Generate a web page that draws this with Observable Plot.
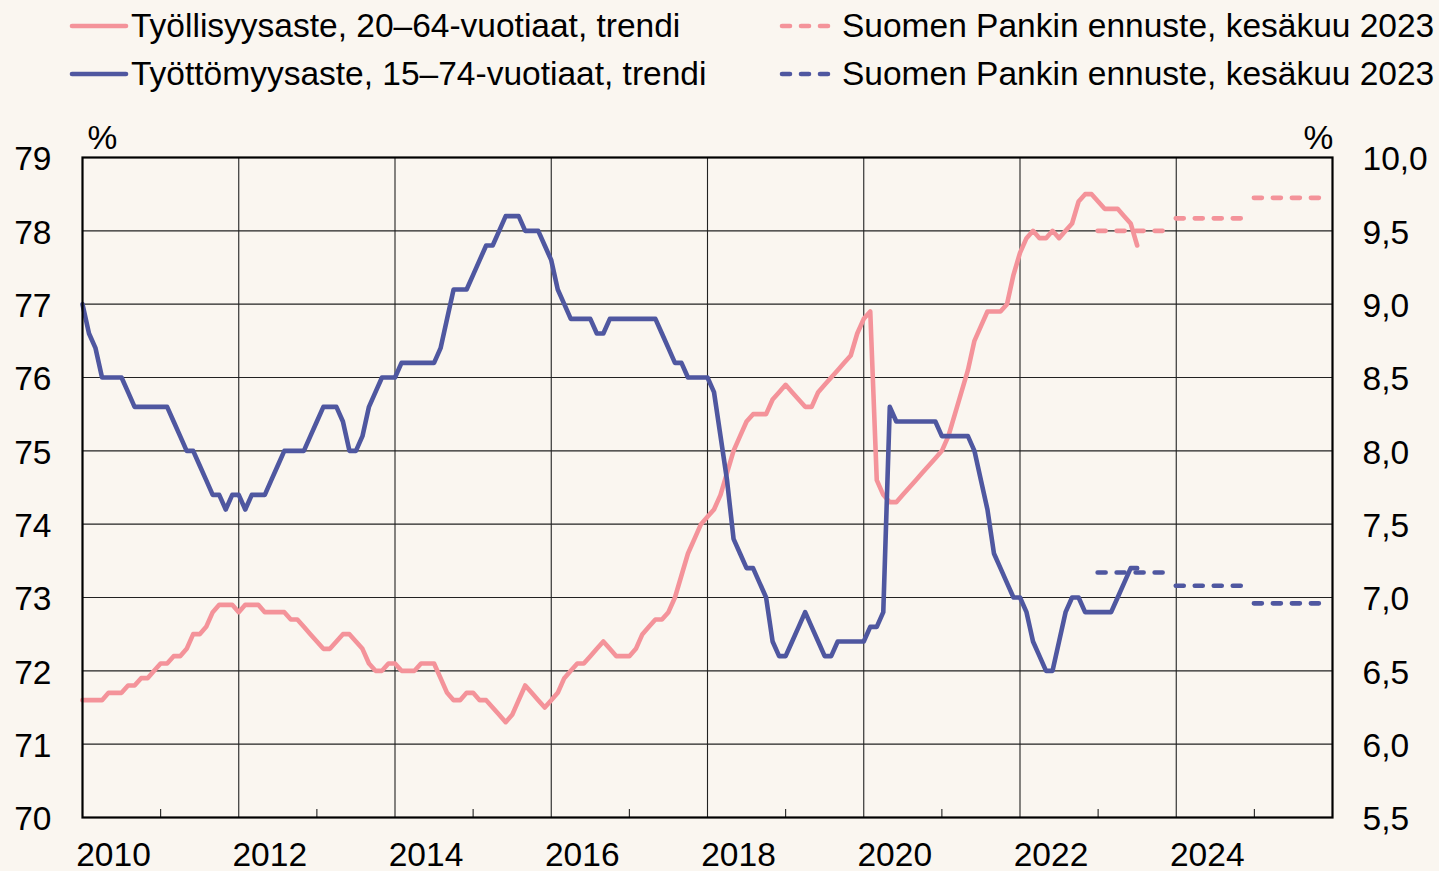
<!DOCTYPE html>
<html>
<head>
<meta charset="utf-8">
<script src="https://cdn.jsdelivr.net/npm/d3@7"></script>
<script src="https://cdn.jsdelivr.net/npm/@observablehq/plot@0.6"></script>
<style>
  html, body { margin: 0; padding: 0; background: #FAF6F0; }
  body { width: 1439px; height: 871px; overflow: hidden; font-family: "Liberation Sans", Arial, sans-serif; }
  #legend { position: relative; width: 1439px; height: 100px; }
  .lg-text { position: absolute; font-size: 33.5px; line-height: 34px; color: #000; white-space: nowrap; }
  .lg-line { position: absolute; }
</style>
</head>
<body>
<div id="legend"></div>
<div id="chart"></div>
<script>
// ---- Data (monthly trend values, Jan 2010 onward) ----
const startYear = 2010;

// Työllisyysaste, 20–64-vuotiaat, trendi (%), left axis
const employment = [
  71.6,71.6,71.6,71.6,71.7,71.7,71.7,71.8,71.8,71.9,71.9,72.0,
  72.1,72.1,72.2,72.2,72.3,72.5,72.5,72.6,72.8,72.9,72.9,72.9,
  72.8,72.9,72.9,72.9,72.8,72.8,72.8,72.8,72.7,72.7,72.6,72.5,
  72.4,72.3,72.3,72.4,72.5,72.5,72.4,72.3,72.1,72.0,72.0,72.1,
  72.1,72.0,72.0,72.0,72.1,72.1,72.1,71.9,71.7,71.6,71.6,71.7,
  71.7,71.6,71.6,71.5,71.4,71.3,71.4,71.6,71.8,71.7,71.6,71.5,
  71.6,71.7,71.9,72.0,72.1,72.1,72.2,72.3,72.4,72.3,72.2,72.2,
  72.2,72.3,72.5,72.6,72.7,72.7,72.8,73.0,73.3,73.6,73.8,74.0,
  74.1,74.2,74.4,74.7,75.0,75.2,75.4,75.5,75.5,75.5,75.7,75.8,
  75.9,75.8,75.7,75.6,75.6,75.8,75.9,76.0,76.1,76.2,76.3,76.6,
  76.8,76.9,74.6,74.4,74.3,74.3,74.4,74.5,74.6,74.7,74.8,74.9,
  75.0,75.2,75.5,75.8,76.1,76.5,76.7,76.9,76.9,76.9,77.0,77.4,
  77.7,77.9,78.0,77.9,77.9,78.0,77.9,78.0,78.1,78.4,78.5,78.5,
  78.4,78.3,78.3,78.3,78.2,78.1,77.8
];

// Työttömyysaste, 15–74-vuotiaat, trendi (%), right axis
const unemployment = [
  9.0,8.8,8.7,8.5,8.5,8.5,8.5,8.4,8.3,8.3,8.3,8.3,
  8.3,8.3,8.2,8.1,8.0,8.0,7.9,7.8,7.7,7.7,7.6,7.7,
  7.7,7.6,7.7,7.7,7.7,7.8,7.9,8.0,8.0,8.0,8.0,8.1,
  8.2,8.3,8.3,8.3,8.2,8.0,8.0,8.1,8.3,8.4,8.5,8.5,
  8.5,8.6,8.6,8.6,8.6,8.6,8.6,8.7,8.9,9.1,9.1,9.1,
  9.2,9.3,9.4,9.4,9.5,9.6,9.6,9.6,9.5,9.5,9.5,9.4,
  9.3,9.1,9.0,8.9,8.9,8.9,8.9,8.8,8.8,8.9,8.9,8.9,
  8.9,8.9,8.9,8.9,8.9,8.8,8.7,8.6,8.6,8.5,8.5,8.5,
  8.5,8.4,8.1,7.8,7.4,7.3,7.2,7.2,7.1,7.0,6.7,6.6,
  6.6,6.7,6.8,6.9,6.8,6.7,6.6,6.6,6.7,6.7,6.7,6.7,
  6.7,6.8,6.8,6.9,8.3,8.2,8.2,8.2,8.2,8.2,8.2,8.2,
  8.1,8.1,8.1,8.1,8.1,8.0,7.8,7.6,7.3,7.2,7.1,7.0,
  7.0,6.9,6.7,6.6,6.5,6.5,6.7,6.9,7.0,7.0,6.9,6.9,
  6.9,6.9,6.9,7.0,7.1,7.2,7.2
];

// Suomen Pankin ennuste, kesäkuu 2023 (annual values)
const forecastYears = [2023, 2024, 2025];
const employmentForecast = [78.0, 78.17, 78.45];
const unemploymentForecast = [7.17, 7.08, 6.96];

// Axis ticks
const leftTicks = [70, 71, 72, 73, 74, 75, 76, 77, 78, 79];
const rightTicks = [5.5, 6.0, 6.5, 7.0, 7.5, 8.0, 8.5, 9.0, 9.5, 10.0];
const yearLabels = [2010, 2012, 2014, 2016, 2018, 2020, 2022, 2024];
const gridYears = [2012, 2014, 2016, 2018, 2020, 2022, 2024];
const minorYears = [2011, 2013, 2015, 2017, 2019, 2021, 2023, 2025];

const legendLabels = [
  "Työllisyysaste, 20–64-vuotiaat, trendi",
  "Työttömyysaste, 15–74-vuotiaat, trendi",
  "Suomen Pankin ennuste, kesäkuu 2023",
  "Suomen Pankin ennuste, kesäkuu 2023"
];

// ---- Styling ----
const PINK = "#F4939A";
const BLUE = "#4F57A0";
const LW = 4.6;
const DASH = "8,11";

// right-axis values mapped onto the left scale (5.5..10 -> 70..79)
const toLeft = v => 70 + (v - 5.5) * 2;
const fmtComma = v => d3.format(".1f")(v).replace(".", ",");

const empData = employment.map((v, i) => ({t: startYear + i / 12, v}));
const unData = unemployment.map((v, i) => ({t: startYear + i / 12, v}));
const empFc = forecastYears.map((y, i) => ({y0: y, y1: y + 11 / 12, v: employmentForecast[i]}));
const unFc = forecastYears.map((y, i) => ({y0: y, y1: y + 11 / 12, v: unemploymentForecast[i]}));

const H = 771, MT = 57, MB = 54;

const chart = Plot.plot({
  width: 1439,
  height: H,
  marginTop: MT,
  marginBottom: MB,
  marginLeft: 82,
  marginRight: 107,
  style: {background: "transparent", fontFamily: "'Liberation Sans', Arial, sans-serif", fontSize: "33.5px", color: "#000", overflow: "visible"},
  x: {domain: [2010, 2026], axis: null},
  y: {domain: [70, 79], axis: null},
  marks: [
    Plot.gridY(leftTicks.filter(d => d > 70 && d < 79), {stroke: "#222", strokeOpacity: 1, strokeWidth: 1.1}),
    Plot.gridX(gridYears, {stroke: "#222", strokeOpacity: 1, strokeWidth: 1.1}),
    Plot.ruleX(minorYears, {x: d => d, stroke: "#222", strokeWidth: 1.1, insetTop: H - MT - MB - 8}),
    Plot.line(empData, {x: "t", y: "v", stroke: PINK, strokeWidth: LW, strokeLinejoin: "round", strokeLinecap: "round"}),
    Plot.line(unData, {x: "t", y: d => toLeft(d.v), stroke: BLUE, strokeWidth: LW, strokeLinejoin: "round", strokeLinecap: "round"}),
    Plot.ruleY(empFc, {y: "v", x1: "y0", x2: "y1", stroke: PINK, strokeWidth: LW, strokeDasharray: DASH, strokeLinecap: "round"}),
    Plot.ruleY(unFc, {y: d => toLeft(d.v), x1: "y0", x2: "y1", stroke: BLUE, strokeWidth: LW, strokeDasharray: DASH, strokeLinecap: "round"}),
    Plot.frame({stroke: "#000", strokeWidth: 2.2}),
    Plot.axisY(leftTicks, {anchor: "left", tickSize: 0, tickPadding: 31, tickFormat: d => String(d), label: null, dy: 2}),
    Plot.axisY(rightTicks.map(toLeft), {anchor: "right", tickSize: 0, tickPadding: 30, tickFormat: d => fmtComma((d - 70) / 2 + 5.5), label: null, dy: 2}),
    Plot.axisX(yearLabels, {anchor: "bottom", tickSize: 0, tickPadding: 25, dx: 31, tickFormat: d => String(d), label: null}),
    Plot.text(["%"], {frameAnchor: "top-left", text: d => d, dx: 20, dy: -9, lineAnchor: "bottom", textAnchor: "middle"}),
    Plot.text(["%"], {frameAnchor: "top-right", text: d => d, dx: -14, dy: -9, lineAnchor: "bottom", textAnchor: "middle"})
  ]
});
document.getElementById("chart").appendChild(chart);

// ---- Legend (HTML, above the SVG) ----
const legend = d3.select("#legend");
const items = [
  {label: legendLabels[0], color: PINK, dash: null, lx: 70, tx: 131, cy: 26},
  {label: legendLabels[1], color: BLUE, dash: null, lx: 70, tx: 131, cy: 74},
  {label: legendLabels[2], color: PINK, dash: DASH, lx: 780, tx: 842, cy: 26},
  {label: legendLabels[3], color: BLUE, dash: DASH, lx: 780, tx: 842, cy: 74}
];
items.forEach(it => {
  const w = it.dash ? 52 : 60;
  const svg = legend.append("svg").attr("class", "lg-line")
    .attr("width", w).attr("height", 12)
    .style("left", (it.lx - 1) + "px").style("top", (it.cy - 6) + "px");
  svg.append("line").attr("x1", 3).attr("x2", w - 3).attr("y1", 6).attr("y2", 6)
    .attr("stroke", it.color).attr("stroke-width", LW).attr("stroke-linecap", "round")
    .attr("stroke-dasharray", it.dash);
  legend.append("div").attr("class", "lg-text")
    .style("left", it.tx + "px").style("top", (it.cy - 17) + "px")
    .text(it.label);
});
</script>
</body>
</html>
